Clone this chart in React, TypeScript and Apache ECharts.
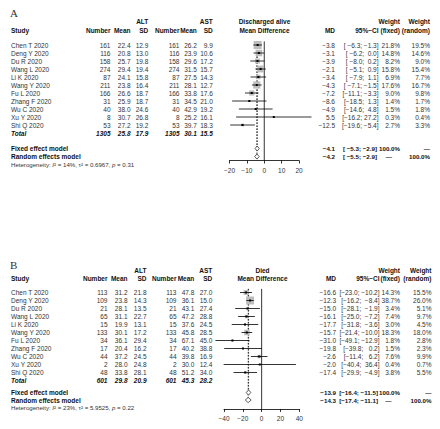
import React, { useEffect, useRef } from 'react';
import * as echarts from 'echarts';

// ---------- Data ----------
const studies = ['Chen T 2020', 'Deng Y 2020', 'Du R 2020', 'Wang L 2020', 'Li K 2020', 'Wang Y 2020', 'Fu L 2020', 'Zhang F 2020', 'Wu C 2020', 'Xu Y 2020', 'Shi Q 2020'];

// Panel A: Discharged alive
const aAltN = [161, 116, 158, 274, 87, 211, 166, 31, 40, 8, 53];
const aAltMean = [22.4, 20.8, 25.7, 29.4, 24.1, 23.8, 26.6, 25.9, 38.0, 30.7, 27.2];
const aAltSD = [12.9, 13.0, 19.8, 19.4, 15.8, 16.4, 18.7, 18.7, 24.6, 26.8, 19.2];
const aAstN = [161, 116, 158, 274, 87, 211, 166, 31, 40, 8, 53];
const aAstMean = [26.2, 23.9, 29.6, 31.5, 27.5, 28.1, 33.8, 34.5, 42.9, 25.2, 39.7];
const aAstSD = [9.9, 10.6, 17.2, 15.7, 14.3, 12.7, 17.6, 21.0, 19.2, 16.1, 18.3];
const aMD = [-3.8, -3.1, -3.9, -2.1, -3.4, -4.3, -7.2, -8.6, -4.9, 5.5, -12.5];
const aLower = [-6.3, -6.2, -8.0, -5.1, -7.9, -7.1, -11.1, -18.5, -14.6, -16.2, -19.6];
const aUpper = [-1.3, 0.0, 0.2, 0.9, 1.1, -1.5, -3.3, 1.3, 4.8, 27.2, -5.4];
const aWFixed = [21.8, 14.8, 8.2, 15.8, 6.9, 17.6, 9.0, 1.4, 1.5, 0.3, 2.7];
const aWRandom = [19.5, 14.6, 9.0, 15.4, 7.7, 16.7, 9.8, 1.7, 1.8, 0.4, 3.3];
const aTotals = ['1305', '25.8', '17.9', '1305', '30.1', '15.5'];
const aFixed = [-4.1, -5.3, -2.9];
const aRandom = [-4.2, -5.5, -2.9];
const aHet = ['14%', '0.6967', '0.31'];

// Panel B: Died
const bAltN = [113, 109, 21, 65, 15, 133, 34, 17, 44, 2, 48];
const bAltMean = [31.2, 23.8, 28.1, 31.1, 19.9, 30.1, 36.1, 20.4, 37.2, 28.0, 33.8];
const bAltSD = [21.8, 14.3, 13.5, 22.7, 13.1, 17.2, 29.4, 16.2, 24.5, 24.8, 28.1];
const bAstN = [113, 109, 21, 65, 15, 133, 34, 17, 44, 2, 48];
const bAstMean = [47.8, 36.1, 43.1, 47.2, 37.6, 45.8, 67.1, 40.2, 39.8, 30.0, 51.2];
const bAstSD = [27.0, 15.0, 27.4, 28.8, 24.5, 28.5, 45.0, 38.8, 16.9, 12.4, 34.0];
const bMD = [-16.6, -12.3, -15.0, -16.1, -17.7, -15.7, -31.0, -19.8, -2.6, -2.0, -17.4];
const bLower = [-23.0, -16.2, -28.1, -25.0, -31.8, -21.4, -49.1, -39.8, -11.4, -40.4, -29.9];
const bUpper = [-10.2, -8.4, -1.9, -7.2, -3.6, -10.0, -12.9, 0.2, 6.2, 36.4, -4.9];
const bWFixed = [14.3, 38.7, 3.4, 7.4, 3.0, 18.3, 1.8, 1.5, 7.6, 0.4, 3.8];
const bWRandom = [15.5, 26.0, 5.1, 9.7, 4.5, 18.0, 2.8, 2.3, 9.9, 0.7, 5.5];
const bTotals = ['601', '29.8', '20.9', '601', '45.3', '28.2'];
const bFixed = [-13.9, -16.4, -11.5];
const bRandom = [-14.3, -17.4, -11.1];
const bHet = ['23%', '5.9525', '0.22'];

// ---------- Layout ----------
const FONT = '"Liberation Sans", Arial, sans-serif';
const FS = 6.5;
const FS_SUM = 6.2;

type Panel = {
  letter: string; title: string;
  altN: number[]; altMean: number[]; altSD: number[];
  astN: number[]; astMean: number[]; astSD: number[];
  md: number[]; lo: number[]; hi: number[]; wf: number[]; wr: number[];
  totals: string[]; fixed: number[]; random: number[]; het: string[];
  xMin: number; xMax: number; interval: number;
  layout: any;
};

const panels: Panel[] = [
  {
    letter: 'A', title: 'Discharged alive',
    altN: aAltN, altMean: aAltMean, altSD: aAltSD, astN: aAstN, astMean: aAstMean, astSD: aAstSD,
    md: aMD, lo: aLower, hi: aUpper, wf: aWFixed, wr: aWRandom,
    totals: aTotals, fixed: aFixed, random: aRandom, het: aHet,
    xMin: -20, xMax: 20, interval: 10,
    layout: {
      rowTop: 45, gridLeft: 229.5, gridWidth: 69.5, axisRow: 14.44,
      letterRow: -4, h1: -2.94, h2: -1.875, totalRow: 11, fixedRow: 12.94, randomRow: 13.94, hetRow: 14.94,
      cols: { study: 11, altN: 110.5, altMean: 130.5, altSD: 148.3, astN: 179.5, astMean: 196.8, astSD: 212.8, plot: 264.5, md: 335, ci: 378.5, wf: 400, wr: 430, wfDash: 392 },
      maxSide: 8,
    },
  },
  {
    letter: 'B', title: 'Died',
    altN: bAltN, altMean: bAltMean, altSD: bAltSD, astN: bAstN, astMean: bAstMean, astSD: bAstSD,
    md: bMD, lo: bLower, hi: bUpper, wf: bWFixed, wr: bWRandom,
    totals: bTotals, fixed: bFixed, random: bRandom, het: bHet,
    xMin: -40, xMax: 40, interval: 20,
    layout: {
      rowTop: 292.5, gridLeft: 224, gridWidth: 75.3, axisRow: 14.56,
      letterRow: -3.44, h1: -2.81, h2: -1.78, totalRow: 11, fixedRow: 12.5, randomRow: 13.44, hetRow: 14.38,
      cols: { study: 11, altN: 107.5, altMean: 127.5, altSD: 146.5, astN: 176.5, astMean: 194.3, astSD: 212.3, plot: 262.5, md: 336, ci: 379.5, wf: 400, wr: 431.5, wfDash: 391.5 },
      maxSide: 8,
    },
  },
];

const ROW_STEP = 8;
const TOP_ROWS = 5;

const minus = (s: string) => s.replace(/-/g, '\u2212');
const f1 = (v: number) => minus(v.toFixed(1));
const padTo = (s: string, n: number) => ' '.repeat(Math.max(0, n - s.length)) + s;

type Cell = { row: number; x: number; text: string; align: string; bold?: boolean; italic?: boolean; size?: number; family?: string; color?: string; rich?: any };

function buildCells(p: Panel): Cell[] {
  const L = p.layout; const c = L.cols;
  const cells: Cell[] = [];
  const add = (row: number, x: number, text: string, align: string, extra: Partial<Cell> = {}) => cells.push({ row, x, text, align, ...extra });
  const B = { bold: true };
  const BS = { bold: true, size: FS_SUM };
  add(L.letterRow, 10, p.letter, 'left', { family: '"Liberation Serif", "Times New Roman", serif', size: 11, color: '#333' });
  add(L.h1, c.altSD, 'ALT', 'right', B);
  add(L.h1, c.astSD, 'AST', 'right', B);
  add(L.h1, c.plot, p.title, 'center', B);
  add(L.h1, c.wf, 'Weight', 'right', B);
  add(L.h1, c.wr, 'Weight', 'right', B);
  add(L.h2, c.study, 'Study', 'left', B);
  add(L.h2, c.altN, 'Number', 'right', B);
  add(L.h2, c.altMean, 'Mean', 'right', B);
  add(L.h2, c.altSD, 'SD', 'right', B);
  add(L.h2, c.astN, 'Number', 'right', B);
  add(L.h2, c.astMean, 'Mean', 'right', B);
  add(L.h2, c.astSD, 'SD', 'right', B);
  add(L.h2, c.plot, 'Mean Difference', 'center', B);
  add(L.h2, c.md, 'MD', 'right', B);
  add(L.h2, c.ci, '95%\u2212CI', 'right', B);
  add(L.h2, c.wf, '(fixed)', 'right', B);
  add(L.h2, c.wr, '(random)', 'right', B);

  const allLo = [...p.lo, p.fixed[1], p.random[1]].map(f1);
  const allHi = [...p.hi, p.fixed[2], p.random[2]].map(f1);
  const wLo = Math.max(...allLo.map((s) => s.length));
  const wHi = Math.max(...allHi.map((s) => s.length));
  const ci = (i: number) => `[${padTo(allLo[i], wLo)}; ${padTo(allHi[i], wHi)}]`;

  studies.forEach((name, i) => {
    add(i, c.study, name, 'left');
    add(i, c.altN, String(p.altN[i]), 'right');
    add(i, c.altMean, f1(p.altMean[i]), 'right');
    add(i, c.altSD, f1(p.altSD[i]), 'right');
    add(i, c.astN, String(p.astN[i]), 'right');
    add(i, c.astMean, f1(p.astMean[i]), 'right');
    add(i, c.astSD, f1(p.astSD[i]), 'right');
    add(i, c.md, f1(p.md[i]), 'right');
    add(i, c.ci, ci(i), 'right');
    add(i, c.wf, p.wf[i].toFixed(1) + '%', 'right');
    add(i, c.wr, p.wr[i].toFixed(1) + '%', 'right');
  });
  const BI = { bold: true, italic: true };
  add(L.totalRow, c.study, 'Total', 'left', BI);
  const tc = [c.altN, c.altMean, c.altSD, c.astN, c.astMean, c.astSD];
  p.totals.forEach((t, k) => add(L.totalRow, tc[k], t, 'right', BI));

  const n = studies.length;
  add(L.fixedRow, c.study, 'Fixed effect model', 'left', B);
  add(L.fixedRow, c.md, f1(p.fixed[0]), 'right', BS);
  add(L.fixedRow, c.ci - 1.5, ci(n), 'right', BS);
  add(L.fixedRow, c.wf, '100.0%', 'right', BS);
  add(L.fixedRow, c.wr, '\u2014', 'right', BS);
  add(L.randomRow, c.study, 'Random effects model', 'left', B);
  add(L.randomRow, c.md, f1(p.random[0]), 'right', BS);
  add(L.randomRow, c.ci - 1.5, ci(n + 1), 'right', BS);
  add(L.randomRow, c.wfDash, '\u2014', 'right', BS);
  add(L.randomRow, c.wr, '100.0%', 'right', BS);

  add(L.hetRow, c.study, `Heterogeneity: {i|I}\u00b2 = ${p.het[0]}, \u03c4\u00b2 = ${p.het[1]}, {i|p} = ${p.het[2]}`, 'left', {
    size: 6.1,
    rich: { i: { fontStyle: 'italic', fontSize: 6.1, fontFamily: FONT, fill: '#333', color: '#333' } },
  });
  return cells;
}

function panelSeries(p: Panel, idx: number) {
  const L = p.layout;
  const cells = buildCells(p);
  const wmax = Math.max(...p.wf);
  const studyData = studies.map((_, i) => [p.md[i], i, p.lo[i], p.hi[i], p.wf[i]]);
  const diamondData = [
    [p.fixed[0], L.fixedRow, p.fixed[1], p.fixed[2]],
    [p.random[0], L.randomRow, p.random[1], p.random[2]],
  ];
  const vlineData = [
    [0, -0.45, L.axisRow, 0],
    [p.fixed[0], -0.45, L.fixedRow, 1],
    [p.random[0], -0.45, L.randomRow, 1],
  ];
  return [
    {
      type: 'custom', xAxisIndex: idx, yAxisIndex: idx, silent: true, clip: false,
      data: vlineData, encode: { x: 0, y: [1, 2] },
      renderItem: (params: any, api: any) => {
        const d = vlineData[params.dataIndex];
        const a = api.coord([d[0], d[1]]);
        const b = api.coord([d[0], d[2]]);
        return {
          type: 'line', shape: { x1: a[0], y1: a[1], x2: b[0], y2: b[1] },
          style: { stroke: d[3] ? '#222' : '#000', lineWidth: 0.8, lineDash: d[3] ? [1.6, 1.4] : null },
        };
      },
    },
    {
      type: 'custom', xAxisIndex: idx, yAxisIndex: idx, silent: true, clip: false,
      data: studyData, encode: { x: [0, 2, 3], y: 1 },
      renderItem: (params: any, api: any) => {
        const d = studyData[params.dataIndex];
        const m = api.coord([d[0], d[1]]);
        const lo = api.coord([d[2], d[1]]);
        const hi = api.coord([d[3], d[1]]);
        const side = L.maxSide * Math.sqrt(d[4] / wmax);
        return {
          type: 'group',
          children: [
            { type: 'rect', shape: { x: m[0] - side / 2, y: m[1] - side / 2, width: side, height: side }, style: { fill: '#bdbdbd' } },
            { type: 'line', shape: { x1: lo[0], y1: m[1], x2: hi[0], y2: m[1] }, style: { stroke: '#000', lineWidth: 0.8 } },
            { type: 'rect', shape: { x: m[0] - 1, y: m[1] - 1, width: 2, height: 2 }, style: { fill: '#000' } },
          ],
        };
      },
    },
    {
      type: 'custom', xAxisIndex: idx, yAxisIndex: idx, silent: true, clip: false,
      data: diamondData, encode: { x: [0, 2, 3], y: 1 },
      renderItem: (params: any, api: any) => {
        const d = diamondData[params.dataIndex];
        const m = api.coord([d[0], d[1]]);
        const lo = api.coord([d[2], d[1]]);
        const hi = api.coord([d[3], d[1]]);
        const h = 2.6;
        return {
          type: 'polygon',
          shape: { points: [[lo[0], m[1]], [m[0], m[1] - h], [hi[0], m[1]], [m[0], m[1] + h]] },
          style: { fill: '#fff', stroke: '#333', lineWidth: 0.8 },
        };
      },
    },
    {
      type: 'custom', xAxisIndex: idx, yAxisIndex: idx, silent: true, clip: false,
      data: cells.map((cl) => [0, cl.row]), encode: { x: 0, y: 1 },
      renderItem: (params: any, api: any) => {
        const cl = cells[params.dataIndex];
        const y = api.coord([0, cl.row])[1];
        const style: any = {
          text: cl.text,
          fill: cl.color || (cl.bold ? '#111' : '#333'),
          fontSize: cl.size || FS,
          fontFamily: cl.family || FONT,
          fontWeight: cl.bold ? 'bold' : 'normal',
          fontStyle: cl.italic ? 'italic' : 'normal',
          align: cl.align, textAlign: cl.align,
          verticalAlign: 'middle', textVerticalAlign: 'middle',
        };
        if (cl.rich) style.rich = cl.rich;
        return { type: 'text', x: cl.x, y, style };
      },
    },
  ];
}

function buildOption() {
  const grid = panels.map((p) => ({
    left: p.layout.gridLeft,
    top: p.layout.rowTop - TOP_ROWS * ROW_STEP,
    width: p.layout.gridWidth,
    height: (p.layout.axisRow + TOP_ROWS) * ROW_STEP,
    containLabel: false,
  }));
  const xAxis = panels.map((p, i) => ({
    gridIndex: i, type: 'value', min: p.xMin, max: p.xMax, interval: p.interval,
    axisLine: { show: true, onZero: false, lineStyle: { color: '#000', width: 0.8 } },
    axisTick: { show: true, length: 3, lineStyle: { color: '#000', width: 0.8 } },
    axisLabel: { fontSize: FS, color: '#333', fontFamily: FONT, margin: 6, formatter: (v: number) => minus(String(v)) },
    splitLine: { show: false },
  }));
  const yAxis = panels.map((p, i) => ({
    gridIndex: i, type: 'value', min: -TOP_ROWS, max: p.layout.axisRow, inverse: true, show: false,
    splitLine: { show: false },
  }));
  const series: any[] = [];
  panels.forEach((p, i) => series.push(...panelSeries(p, i)));
  return { animation: false, backgroundColor: '#fff', grid, xAxis, yAxis, series };
}

export default function App() {
  const ref = useRef<HTMLDivElement>(null);
  useEffect(() => {
    const chart = echarts.init(ref.current!, null, { renderer: 'svg' });
    chart.setOption(buildOption() as any);
    return () => chart.dispose();
  }, []);
  return <div ref={ref} style={{ position: 'absolute', left: 0, top: 0, width: 440, height: 429 }} />;
}
